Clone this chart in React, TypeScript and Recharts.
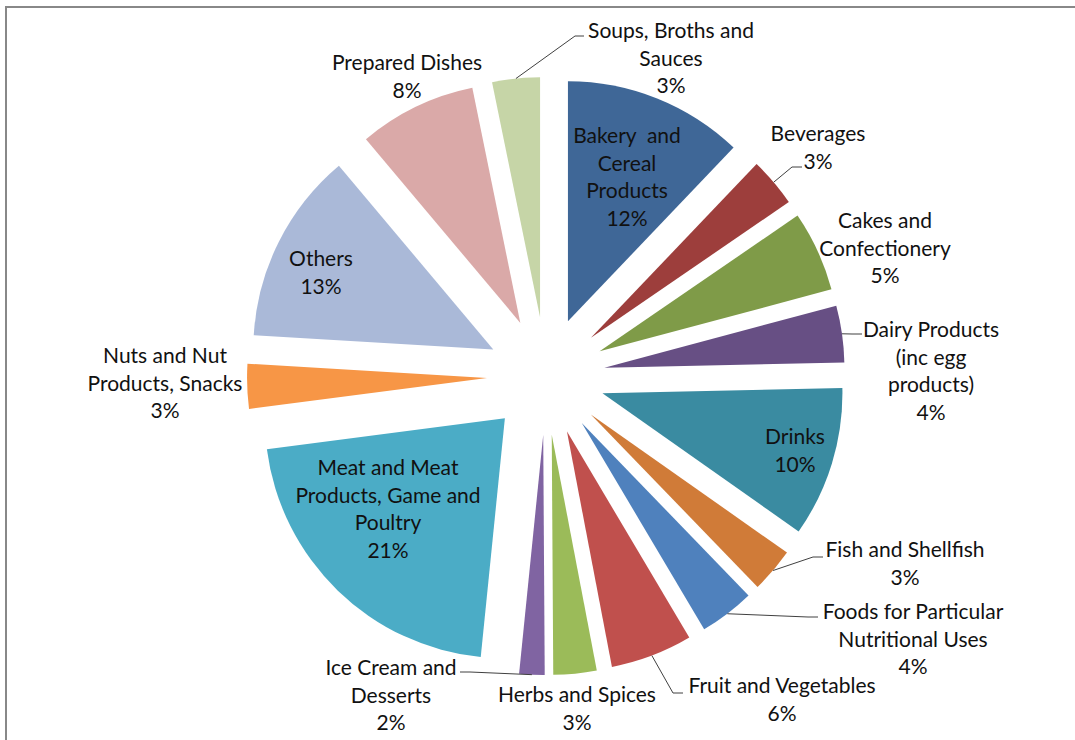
import React from 'react';
import { PieChart, Pie, Cell, Sector } from 'recharts';

// ─── Data ────────────────────────────────────────────────────────────────────

const CATEGORIES = [
  'Bakery  and\nCereal\nProducts',
  'Beverages',
  'Cakes and\nConfectionery',
  'Dairy Products\n(inc egg\nproducts)',
  'Drinks',
  'Fish and Shellfish',
  'Foods for Particular\nNutritional Uses',
  'Fruit and Vegetables',
  'Herbs and Spices',
  'Ice Cream and\nDesserts',
  'Meat and Meat\nProducts, Game and\nPoultry',
  'Nuts and Nut\nProducts, Snacks',
  'Others',
  'Prepared Dishes',
  'Soups, Broths and\nSauces',
];

// shares (%); labels show them rounded
const SHARES = [12.1, 3.3, 5.4, 3.8, 10.1, 3.0, 3.7, 5.5, 2.9, 1.7, 21.3, 3.0, 12.9, 7.9, 3.2];

const SLICE_COLORS = [
  '#3F6797',
  '#9D3E3C',
  '#7F9B48',
  '#674F84',
  '#3A8BA1',
  '#D07B38',
  '#4F81BD',
  '#C0504D',
  '#9BBB59',
  '#8064A2',
  '#4BACC6',
  '#F79646',
  '#AAB9D8',
  '#DAA9A8',
  '#C6D5A7',
];

// ─── Layout (text placement only) ────────────────────────────────────────────

const CENTER_X = 541;
const CENTER_Y = 371;
const RADIUS = 240;
const EXPLODE = 59;
const LINE_H = 27.6;
const RAD = Math.PI / 180;

type LabelLayout = { x: number; y: number; elbow?: [number, number, number] };

// x = text centre, y = first baseline, elbow = [x, y, end x] of the leader line
const LABEL_LAYOUT: LabelLayout[] = [
  { x: 627, y: 143 },
  { x: 818, y: 141, elbow: [792, 167, 802] },
  { x: 885, y: 228 },
  { x: 931, y: 337, elbow: [852, 334, 862] },
  { x: 795, y: 444 },
  { x: 905, y: 557, elbow: [813, 557, 823] },
  { x: 913, y: 619, elbow: [808, 617, 818] },
  { x: 782, y: 693, elbow: [673, 693, 683] },
  { x: 577, y: 702 },
  { x: 391, y: 675, elbow: [470, 672, 460] },
  { x: 388, y: 475 },
  { x: 165, y: 363 },
  { x: 321, y: 266 },
  { x: 407, y: 70 },
  { x: 671, y: 38, elbow: [575, 36, 584] },
];

const chartData = CATEGORIES.map((name, i) => ({ name, value: SHARES[i] }));

// ─── Exploded slice ──────────────────────────────────────────────────────────

const renderSlice = (props: any) => {
  const { cx, cy, midAngle, innerRadius, outerRadius, startAngle, endAngle, fill } = props;
  const a = -midAngle * RAD;
  return (
    <Sector
      cx={cx + EXPLODE * Math.cos(a)}
      cy={cy + EXPLODE * Math.sin(a)}
      innerRadius={innerRadius}
      outerRadius={outerRadius}
      startAngle={startAngle}
      endAngle={endAngle}
      fill={fill}
      stroke="none"
    />
  );
};

// ─── Labels ──────────────────────────────────────────────────────────────────

const renderLabel = (props: any) => {
  const { cx, cy, midAngle, outerRadius, index, percent } = props;
  const lay = LABEL_LAYOUT[index];
  const lines = [...CATEGORIES[index].split('\n'), `${Math.round(percent * 100)}%`];
  let leader = null;
  if (lay.elbow) {
    const a = -midAngle * RAD;
    const sx = cx + (EXPLODE + outerRadius) * Math.cos(a);
    const sy = cy + (EXPLODE + outerRadius) * Math.sin(a);
    const [ex, ey, endX] = lay.elbow;
    leader = (
      <polyline
        points={`${sx},${sy} ${ex},${ey} ${endX},${ey}`}
        fill="none"
        stroke="#404040"
        strokeWidth={1}
      />
    );
  }
  return (
    <g key={`lbl-${index}`}>
      {leader}
      <text
        x={lay.x}
        y={lay.y}
        textAnchor="middle"
        fill="#111"
        fontSize={21}
        fontFamily="Lato, 'Open Sans', sans-serif"
      >
        {lines.map((l, i) => (
          <tspan key={i} x={lay.x} dy={i === 0 ? 0 : LINE_H} style={{ whiteSpace: 'pre' }}>
            {l}
          </tspan>
        ))}
      </text>
    </g>
  );
};

export default function App() {
  return (
    <div
      style={{
        position: 'absolute',
        left: 0,
        top: 0,
        width: 1075,
        height: 740,
        background: '#fff',
        overflow: 'hidden',
      }}
    >
      <div
        style={{
          position: 'absolute',
          left: 5,
          top: 6,
          width: 1080,
          height: 740,
          borderLeft: '2px solid #888',
          borderTop: '2px solid #888',
        }}
      />
      <PieChart width={1075} height={740} style={{ position: 'absolute', left: 0, top: 0 }}>
        <Pie
          data={chartData}
          dataKey="value"
          nameKey="name"
          cx={CENTER_X}
          cy={CENTER_Y}
          innerRadius={0}
          outerRadius={RADIUS}
          startAngle={90}
          endAngle={-270}
          stroke="none"
          isAnimationActive={false}
          shape={renderSlice}
          activeShape={renderSlice}
          inactiveShape={renderSlice}
          label={renderLabel}
          labelLine={false}
        >
          {chartData.map((_, i) => (
            <Cell key={`cell-${i}`} fill={SLICE_COLORS[i]} />
          ))}
        </Pie>
      </PieChart>
    </div>
  );
}
